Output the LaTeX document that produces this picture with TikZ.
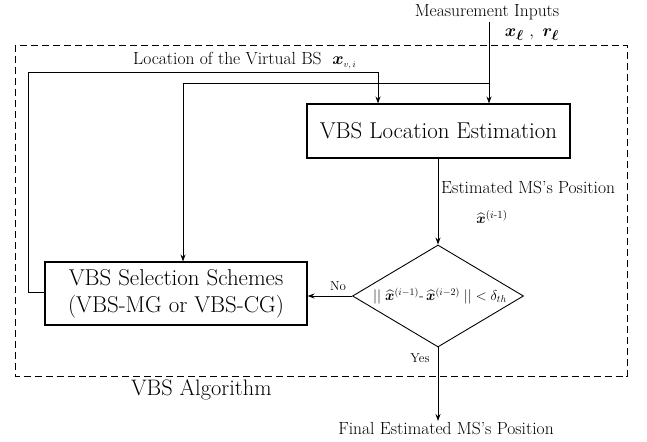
\documentclass[tikz,border=0pt]{standalone}
\usepackage{amsmath,bm}
\usetikzlibrary{arrows.meta,shapes.geometric}
\tikzset{
  box/.style={draw,line width=1.1pt,inner sep=0pt,font=\fontsize{23}{27}\selectfont,align=center},
  lab/.style={inner sep=0pt,font=\fontsize{17.6}{20}\selectfont},
  conn/.style={line width=0.9pt,-{Stealth[length=7pt,width=5pt]}},
}
\begin{document}
\begin{tikzpicture}[x=1bp,y=-1bp]
\useasboundingbox (0,0) rectangle (647,442);
\draw[line width=0.9pt,dash pattern=on 7pt off 4pt] (15,45) rectangle (627,376);
\node[lab] (meas) at (487,12) {Measurement Inputs};
\node[lab,font=\fontsize{19}{21}\selectfont] (xl) at (532,35) {$\bm{x}_{\bm{\ell}}\ ,\ \bm{r}_{\bm{\ell}}$};
\node[box,minimum width=263bp,minimum height=54bp] (loc) at (438.5,131) {VBS Location Estimation};
\node[box,minimum width=262bp,minimum height=63bp] (sel) at (176,293.5) {VBS Selection Schemes\\(VBS-MG or VBS-CG)};
\node[draw,diamond,line width=0.9pt,minimum width=171bp,minimum height=102bp,inner sep=0pt] (d) at (438,296) {};
\node[inner sep=0pt,font=\fontsize{14.3}{16}\selectfont] (dt) at (440,296) {$||\;\widehat{\bm{x}}^{(i-1)}\text{-}\,\widehat{\bm{x}}^{(i-2)}\;||<\mathrm{\delta}_{th}$};
\coordinate (mtop) at (489,22);
\coordinate (j1) at (489,83);
\coordinate (c183) at (183,83);
\coordinate (fb0) at (28,292);
\coordinate (fb1) at (28,72);
\coordinate (fb2) at (378,72);
\coordinate (fin) at (438,421);
\draw[conn] (mtop) -- (mtop |- loc.north);
\draw[conn] (j1) -- (c183) -- (c183 |- sel.north);
\draw[conn] (sel.west |- fb0) -- (fb0) -- (fb1) -- (fb2) -- (fb2 |- loc.north);
\draw[conn] (loc.south -| d.north) -- (d.north);
\draw[conn] (d.west) -- (sel.east |- d.west);
\draw[conn] (d.south) -- (fin);
\node[lab,anchor=west] (lvb) at (133,61) {Location of the Virtual BS\ \ $\bm{x}_{\scriptscriptstyle v,\,i}$};
\node[lab,anchor=west] (emp) at (441,188) {Estimated MS's Position};
\node[lab,font=\fontsize{15}{17}\selectfont] (xh) at (492,217) {$\widehat{\bm{x}}^{(i\text{-}1)}$};
\node[lab,font=\fontsize{13}{15}\selectfont] (no) at (338,286) {No};
\node[lab,font=\fontsize{13}{15}\selectfont] (yes) at (420,358) {Yes};
\node[lab,anchor=west,font=\fontsize{22.5}{25}\selectfont] (alg) at (131,390) {VBS Algorithm};
\node[lab] (fmp) at (446,429) {Final Estimated MS's Position};
\end{tikzpicture}
\end{document}
